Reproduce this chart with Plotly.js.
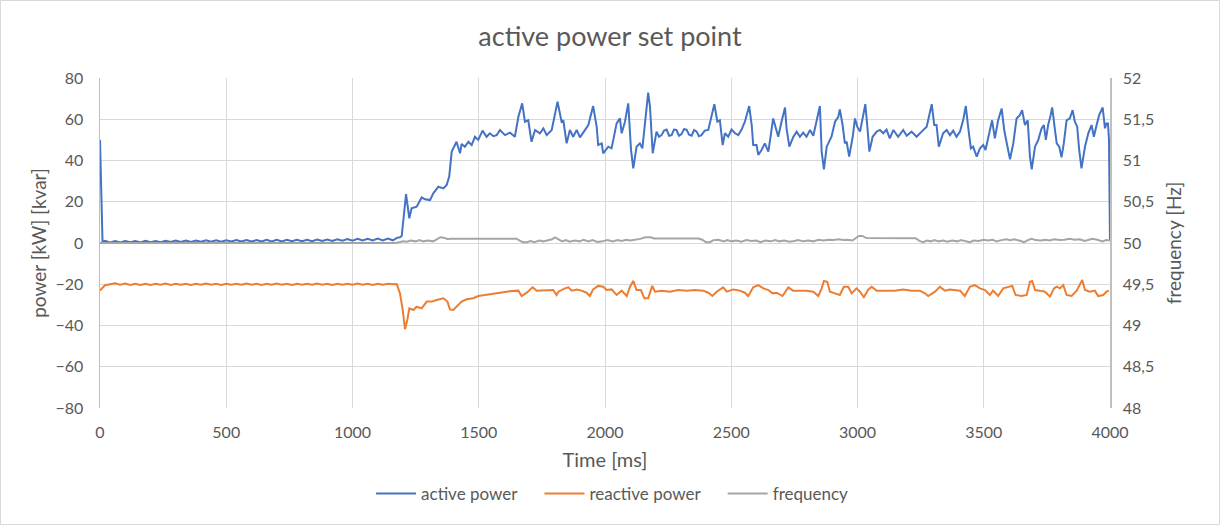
<!DOCTYPE html>
<html>
<head>
<meta charset="utf-8">
<script src="https://cdn.plot.ly/plotly-3.0.1.min.js"></script>
<style>html,body{margin:0;padding:0;background:#fff;}#chart{width:1220px;height:525px;}</style>
</head>
<body>
<div id="chart"></div>
<script>
// ---------- data ----------
const seriesNames = ["active power", "reactive power", "frequency"];

const tActive = [0,10,20,40,60,80,100,120,140,160,180,200,220,240,260,280,300,320,340,360,380,400,420,440,460,480,500,520,540,560,580,600,620,640,660,680,700,720,740,760,780,800,820,840,860,880,900,920,940,960,980,1000,1020,1040,1060,1080,1100,1120,1140,1160,
1176,1188,1195,1205,1212,1225,1234,1254,1274,1287,1307,1320,1340,1360,1373,1383,1393,1412,1426,1432,1445,1459,1472,1485,1498,1515,1531,1544,1558,1571,1584,1604,1624,1643,1657,1672,1683,1696,1709,1723,1742,1756,1769,1789,1797,1812,1828,1835,1848,1861,1874,1888,1901,1921,1934,1953,1967,1973,1987,1993,2013,2026,2046,2059,2066,2079,2092,2103,2112,2125,2138,2148,2161,2171,2178,2189,2204,2214,2224,2234,2244,2254,2264,2273,2283,2293,2303,2313,2323,2333,2343,2353,2363,2372,2382,2395,2409,2422,2433,2445,2455,2466,2475,2488,2501,2515,2528,2541,2554,2571,2581,2587,2600,2607,2620,2633,2647,2666,2676,2686,2699,2713,2719,2730,2746,2759,2772,2785,2798,2812,2825,2838,2851,2858,2867,2878,2897,2911,2924,2930,2941,2950,2957,2967,2981,2990,2999,3010,3020,3031,3039,3047,3060,3076,3089,3102,3115,3128,3142,3161,3181,3195,3214,3234,3254,3274,3294,3304,3313,3322,3339,3353,3366,3379,3392,3406,3419,3429,3438,3449,3458,3472,3485,3498,3507,3524,3533,3544,3557,3571,3581,3590,3604,3617,3630,3643,3652,3663,3674,3683,3690,3703,3716,3729,3738,3746,3755,3765,3771,3782,3789,3799,3808,3817,3828,3841,3852,3861,3870,3878,3887,3901,3914,3927,3936,3947,3957,3971,3980,3986,3992,3996,4000];
const activePower = [50,0.4,1.0,0.3,1.0,0.3,1.0,0.4,1.0,0.3,1.1,0.4,1.0,0.4,1.1,0.5,1.2,0.5,1.2,0.5,1.2,0.6,1.3,0.6,1.3,0.6,1.3,0.7,1.4,0.7,1.4,0.7,1.4,0.7,1.5,0.8,1.5,0.8,1.6,0.9,1.6,0.9,1.6,0.9,1.7,1.0,1.7,1.0,1.8,1.1,1.9,1.1,2.0,1.2,2.0,1.2,2.1,1.2,2.1,1.3,
2.5,2.8,3.5,15,23.7,12,16.8,17.6,22.1,21.2,20.8,24.1,27.3,26.5,28.1,32.2,44.3,49.1,43.5,48,46.7,49.1,47.5,51.5,50,54.5,51.5,53.2,51.8,52.3,54.8,52.3,53.5,51.5,61.2,67.7,58.8,59.5,49.1,54.8,53.2,55.6,52.3,54.8,60,68.5,58.8,59.5,48.3,54.8,51.5,54.8,51.2,54.8,57.2,66.4,56.4,47.5,48.3,43.5,46.7,45.9,58,60.4,53.2,58.8,67.7,45.1,36.2,46.7,48.3,45.9,61.2,72.9,66.1,43.5,54,51.5,52.3,54.5,55,52,52.3,55,54.8,52,52.8,55.2,55,52.5,52,54.8,54,51.8,52.3,54.5,54.8,61.2,67.3,58.8,59.5,47.5,53.2,51.5,55,53.2,52.3,55,58.8,66.4,57.2,47.5,47.5,42.7,45.1,48.3,44.3,60.4,56.4,51.5,58.8,65.7,55.6,46.7,51.5,54,51.5,53.5,51.5,54.8,52,58.8,66.4,44.3,35.7,46.7,51.5,58.8,61.2,64.8,57.2,48.3,49.1,41.9,51.5,60.4,56.4,54,61.2,67.3,56.4,44.3,51.5,54,54.8,53.2,55,50.7,54.8,51.5,54.8,52,54,51.5,54,56.4,67.3,57.2,57.2,46.7,53.2,54.8,52.3,54.5,51.5,54,59.9,66.4,56.4,45.9,46.7,41.9,45.9,47.5,45.1,54.8,59.5,50.7,59.5,65.2,54.8,49.1,40.6,48.3,60.4,62,64.4,57.2,59.5,41.9,35.7,46.7,50,55.5,57.2,50,57.2,62,65.7,54.8,48.3,46.7,41.5,48.3,59.5,60.4,64.4,58.8,56.4,45.1,36.2,46.7,53.2,57.2,51.5,57.2,62,65.7,55.6,58,58,50,1];

const tReactive = [0,10,20,40,60,80,100,120,140,160,180,200,220,240,260,280,300,320,340,360,380,400,420,440,460,480,500,520,540,560,580,600,620,640,660,680,700,720,740,760,780,800,820,840,860,880,900,920,940,960,980,1000,1020,1040,1060,1080,1100,1120,1140,1160,
1175,1188,1199,1208,1217,1225,1241,1254,1274,1294,1314,1333,1360,1376,1386,1399,1419,1432,1452,1478,1498,1525,1551,1577,1604,1630,1657,1670,1690,1713,1729,1769,1795,1808,1815,1841,1855,1868,1888,1907,1927,1940,1953,1973,1993,2006,2026,2046,2066,2086,2099,2112,2125,2142,2156,2171,2187,2198,2224,2257,2290,2323,2356,2389,2409,2425,2442,2468,2482,2508,2534,2554,2567,2587,2607,2627,2647,2664,2680,2703,2726,2745,2772,2798,2825,2845,2858,2867,2880,2891,2911,2930,2946,2963,2977,2996,3010,3025,3043,3056,3076,3102,3122,3148,3181,3214,3247,3267,3280,3307,3326,3346,3366,3386,3406,3425,3445,3465,3485,3505,3524,3537,3557,3577,3597,3613,3626,3650,3670,3683,3692,3703,3722,3742,3749,3762,3778,3789,3802,3815,3828,3848,3868,3881,3890,3901,3920,3940,3953,3973,3986,3996];
const reactivePower = [-23,-21.5,-20.5,-20.0,-19.5,-20.2,-19.7,-20.3,-19.8,-20.3,-19.8,-20.3,-19.8,-20.2,-19.7,-20.3,-19.8,-20.2,-19.8,-20.3,-19.8,-20.2,-19.7,-20.2,-19.8,-20.3,-19.8,-20.2,-19.8,-20.2,-19.7,-20.2,-19.8,-20.3,-19.8,-20.2,-19.7,-20.2,-19.8,-20.3,-19.8,-20.2,-19.8,-20.2,-19.7,-20.2,-19.8,-20.3,-19.8,-20.2,-19.8,-20.2,-19.7,-20.2,-19.8,-20.3,-19.8,-20.2,-19.8,-20.0,
-19.9,-24.4,-32.5,-41.8,-37.3,-31.7,-32.5,-30.9,-31.7,-28.4,-28.4,-27.6,-26.8,-28.4,-32.2,-32.5,-30.1,-28.4,-27.3,-26.8,-25.7,-25.2,-24.4,-24.1,-23.6,-23.3,-23.1,-25.7,-24.1,-21.5,-23.1,-22.8,-22.8,-25.2,-23.6,-22,-21.5,-23.1,-22.5,-23.1,-24.1,-25.7,-22.5,-20.8,-21.2,-22.8,-22.5,-25.2,-23.1,-25.7,-21.2,-18.4,-22.8,-22.8,-26.8,-26.8,-20.8,-23.6,-23.1,-23.6,-22.8,-23.1,-22.8,-23.1,-24.1,-25.7,-23.6,-21.5,-23.6,-22.5,-23.1,-24.1,-25.7,-21.5,-20.4,-22,-22.8,-24.4,-24.1,-25.7,-21.5,-23.1,-23.1,-23.1,-23.6,-25.7,-22,-18.4,-18.8,-23.6,-24.4,-25.2,-21.2,-21.2,-24.4,-22,-23.6,-26.3,-22.5,-21.2,-23.1,-23.1,-23.4,-23.1,-22.5,-23.1,-23.1,-24.4,-25.7,-23.6,-21.2,-23.1,-22.5,-22.8,-23.1,-25.7,-21.2,-20.4,-22,-22.8,-25.2,-23.1,-25.7,-22,-21.2,-20.8,-25.2,-25.7,-25.2,-18.8,-18.4,-22.8,-23.1,-23.6,-24.4,-26,-22,-21.2,-22,-20.4,-25.2,-25.7,-23.1,-20.4,-17.9,-22.8,-23.6,-23.1,-25.7,-25.2,-23.6,-23.1];

const tFrequency = [0,1170,1185,1200,1215,1230,1250,1265,1280,1300,1320,1335,1348,1362,1375,1390,1650,1662,1675,1690,1705,1720,1740,1755,1775,1790,1802,1815,1830,1845,1860,1880,1900,1915,1935,1950,1970,1990,2010,2030,2050,2065,2085,2100,2120,2140,2160,2180,2195,2370,2385,2400,2415,2430,2450,2470,2485,2500,2520,2540,2560,2580,2600,2615,2635,2655,2675,2690,2710,2730,2750,2765,2785,2805,2825,2845,2865,2885,2905,2925,2945,2960,2980,2995,3005,3020,3035,3230,3245,3260,3275,3290,3305,3320,3340,3355,3375,3395,3410,3430,3445,3460,3480,3500,3515,3535,3550,3570,3590,3605,3620,3640,3660,3675,3690,3705,3725,3745,3760,3780,3800,3820,3840,3860,3880,3900,3915,3930,3950,3970,3985,4000];
const frequency = [50.0,50.0,50.01,50.02,50.015,50.03,50.02,50.035,50.02,50.03,50.02,50.045,50.07,50.065,50.05,50.053,50.053,50.03,50.01,50.01,50.025,50.01,50.03,50.02,50.035,50.045,50.068,50.05,50.02,50.035,50.015,50.03,50.02,50.04,50.02,50.035,50.012,50.02,50.035,50.02,50.035,50.025,50.04,50.03,50.04,50.05,50.07,50.07,50.055,50.055,50.04,50.01,50.01,50.035,50.04,50.02,50.035,50.02,50.03,50.015,50.035,50.025,50.03,50.01,50.03,50.02,50.035,50.02,50.03,50.015,50.025,50.035,50.02,50.03,50.02,50.04,50.03,50.04,50.035,50.045,50.035,50.04,50.03,50.06,50.085,50.085,50.06,50.057,50.025,50.01,50.03,50.02,50.035,50.02,50.03,50.015,50.03,50.02,50.035,50.02,50.01,50.03,50.025,50.04,50.03,50.04,50.02,50.035,50.045,50.035,50.045,50.03,50.01,50.035,50.05,50.035,50.03,50.04,50.03,50.045,50.035,50.04,50.05,50.04,50.045,50.025,50.035,50.05,50.04,50.02,50.035,50.03];

const freqTickVals = [48,48.5,49,49.5,50,50.5,51,51.5,52];
const freqTickText = ["48","48,5","49","49,5","50","50,5","51","51,5","52"];

// ---------- chart ----------
const FONT = "Lato, 'Open Sans', sans-serif";
const TXT = "#595959";
const GRID = "#d9d9d9";
const W = 1220, H = 525;
const M = {l:100, r:110, t:78, b:117};
const pw = W - M.l - M.r, ph = H - M.t - M.b;
const PAD = "\u00a0\u00a0\u00a0\u00a0";

const traces = [
  {x:tActive, y:activePower, name:seriesNames[0] + PAD, type:"scatter", mode:"lines",
   line:{color:"#4472C4", width:2}, yaxis:"y"},
  {x:tReactive, y:reactivePower, name:seriesNames[1] + PAD, type:"scatter", mode:"lines",
   line:{color:"#ED7D31", width:2}, yaxis:"y"},
  {x:tFrequency, y:frequency, name:seriesNames[2], type:"scatter", mode:"lines",
   line:{color:"#A5A5A5", width:2}, yaxis:"y2"}
];

const layout = {
  width:W, height:H,
  margin:M,
  paper_bgcolor:"#fff", plot_bgcolor:"#fff",
  font:{family:FONT, color:TXT, size:16},
  title:{text:"active power set point", font:{size:27, color:TXT, family:FONT},
         x:0.5, xanchor:"center", y:1-37/H, yanchor:"middle", yref:"container"},
  showlegend:true,
  legend:{orientation:"h", x:0.507, xanchor:"center", y:(ph-(494-M.t))/ph, yanchor:"middle",
          font:{size:17, color:TXT}, itemwidth:40, traceorder:"normal"},
  xaxis:{range:[0,4000], dtick:500, tick0:0, showgrid:true, gridcolor:GRID, gridwidth:1,
         zeroline:false, showline:false, ticks:"", tickfont:{size:16, color:TXT},
         ticklabelstandoff:13,
         title:{text:"Time [ms]", font:{size:20, color:TXT}, standoff:12}},
  yaxis:{range:[-80,80], dtick:20, tick0:-80, showgrid:true, gridcolor:GRID, gridwidth:1,
         zeroline:false, showline:true, linecolor:"#bfbfbf", linewidth:1.5, ticks:"",
         tickfont:{size:16, color:TXT}, ticklabelstandoff:12,
         title:{text:"power [kW] [kvar]", font:{size:19, color:TXT}, standoff:4}},
  yaxis2:{range:[48,52], overlaying:"y", side:"right", tickmode:"array",
          tickvals:freqTickVals, ticktext:freqTickText, showgrid:false,
          zeroline:false, showline:true, linecolor:"#bfbfbf", linewidth:1.5, ticks:"",
          tickfont:{size:16, color:TXT}, ticklabelstandoff:8,
          title:{text:"frequency [Hz]", font:{size:19, color:TXT}, standoff:14}},
  shapes:[{type:"rect", xref:"paper", yref:"paper",
           x0:(0.5-M.l)/pw, x1:(W-0.5-M.l)/pw,
           y0:-(H-0.5-M.t-ph)/ph, y1:(ph+M.t-0.5)/ph,
           line:{color:"#d9d9d9", width:1}, fillcolor:"rgba(0,0,0,0)", layer:"below"}]
};

Plotly.newPlot("chart", traces, layout, {staticPlot:true, displayModeBar:false});
</script>
</body>
</html>
